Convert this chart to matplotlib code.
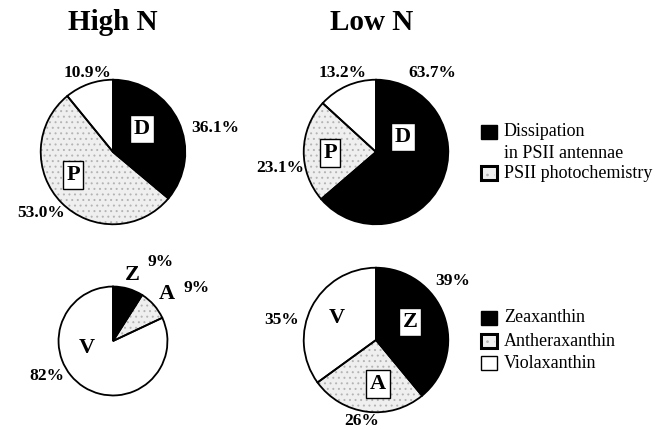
import matplotlib
matplotlib.use("Agg")
import matplotlib.pyplot as plt
from matplotlib.patches import Rectangle

plt.rcParams['font.family'] = ['Liberation Serif', 'DejaVu Serif']
plt.rcParams['hatch.linewidth'] = 0.7

W, H = 655, 430

# --- data ---
conditions = ["High N", "Low N"]
psii_names = ["Dissipation", "PSII photochemistry", "other"]
psii_high = [36.1, 53.0, 10.9]
psii_low = [63.7, 23.1, 13.2]
pigment_names = ["Zeaxanthin", "Antheraxanthin", "Violaxanthin"]
pigment_high = [9, 9, 82]
pigment_low = [39, 26, 35]

BLACK = "black"
STIP = "#efefef"
WHITE = "white"
fills = [BLACK, STIP, WHITE]


def fx(px):
    return px / W


def fy(py):
    return 1 - py / H


def pie_axes(cx, cy, r):
    ax = fig.add_axes([fx(cx - r), fy(cy + r), 2 * r / W, 2 * r / H])
    return ax


def draw_pie(ax, vals):
    wedges, _ = ax.pie(vals, colors=fills, startangle=90, counterclock=False,
                       radius=0.99, wedgeprops=dict(linewidth=0))
    wedges[1].set_hatch("...")
    wedges[1].set_edgecolor("#b4b4b4")
    ax.pie(vals, startangle=90, counterclock=False, radius=0.99,
           wedgeprops=dict(fill=False, edgecolor="black", linewidth=1.3))
    # pie() resets the limits to +-1.25, pull them back so r fills the axes
    ax.set_xlim(-1, 1)
    ax.set_ylim(-1, 1)
    ax.set_aspect("equal")
    ax.axis("off")


def txt(px, py, s, size=12.5, bold=True, box=False, **kw):
    bb = None
    if box:
        bb = dict(boxstyle="square,pad=0.16", fc="white", ec="black", lw=1.0)
    fig.text(fx(px), fy(py), s, fontsize=size,
             fontweight="bold" if bold else "normal",
             ha=kw.pop("ha", "center"), va=kw.pop("va", "center"), bbox=bb, **kw)


fig = plt.figure(figsize=(W / 100, H / 100), dpi=100)

# titles
txt(113, 22, conditions[0], size=21)
txt(372, 22, conditions[1], size=21)

# top row: PSII energy partitioning
draw_pie(pie_axes(113, 152, 73), psii_high)
draw_pie(pie_axes(376, 152, 73), psii_low)

txt(88, 73, f"{psii_high[2]:.1f}%")
txt(191, 128, f"{psii_high[0]:.1f}%", ha="left")
txt(41, 213, f"{psii_high[1]:.1f}%")
txt(142, 129, "D", size=16, box=True)
txt(73, 175, "P", size=16, box=True)

txt(343, 73, f"{psii_low[2]:.1f}%")
txt(408, 73, f"{psii_low[0]:.1f}%", ha="left")
txt(280, 168, f"{psii_low[1]:.1f}%")
txt(403, 137, "D", size=16, box=True)
txt(330, 153, "P", size=16, box=True)

# bottom row: xanthophyll pool
draw_pie(pie_axes(113, 341, 55), pigment_high)
draw_pie(pie_axes(376, 340, 73), pigment_low)

txt(132, 275, "Z", size=16)
txt(148, 262, f"{pigment_high[0]}%", ha="left")
txt(167, 294, "A", size=16)
txt(183, 288, f"{pigment_high[1]}%", ha="left")
txt(87, 348, "V", size=16)
txt(47, 376, f"{pigment_high[2]}%")

txt(435, 281, f"{pigment_low[0]}%", ha="left")
txt(410, 322, "Z", size=16, box=True)
txt(337, 318, "V", size=16)
txt(282, 320, f"{pigment_low[2]}%")
txt(378, 384, "A", size=16, box=True)
txt(362, 421, f"{pigment_low[1]}%")


# legends
def key(px, py, color, lw=1.0):
    r = Rectangle((fx(px), fy(py + 14)), 16 / W, 14 / H, transform=fig.transFigure,
                  facecolor=color, edgecolor="black", linewidth=lw)
    fig.patches.append(r)
    if color == STIP:
        # stipple inside the thick frame
        dots = Rectangle((fx(px + 2), fy(py + 12)), 12 / W, 10 / H,
                         transform=fig.transFigure, facecolor=STIP,
                         edgecolor="#b4b4b4", linewidth=0, hatch="..")
        fig.patches.append(dots)


key(481, 125, BLACK)
txt(504, 132, "Dissipation", size=13, bold=False, ha="left")
txt(504, 153, "in PSII antennae", size=13, bold=False, ha="left")
key(481, 166, STIP, lw=2.2)
txt(504, 173, "PSII photochemistry", size=13, bold=False, ha="left")

key(481, 311, BLACK)
txt(504, 318, pigment_names[0], size=13, bold=False, ha="left")
key(481, 334, STIP, lw=2.2)
txt(504, 341, pigment_names[1], size=13, bold=False, ha="left")
key(481, 356, WHITE)
txt(504, 363, pigment_names[2], size=13, bold=False, ha="left")

fig.savefig("out.png", dpi=100)
